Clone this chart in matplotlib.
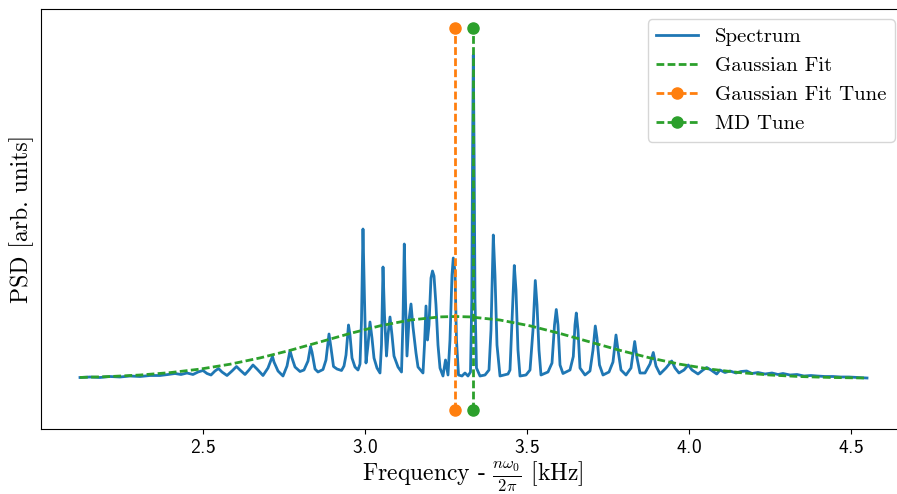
import matplotlib
matplotlib.use("Agg")
import matplotlib.pyplot as plt

plt.rcParams['font.family'] = 'serif'
plt.rcParams['font.serif'] = ['cmr10']
plt.rcParams['mathtext.fontset'] = 'cm'
plt.rcParams['axes.formatter.use_mathtext'] = True
plt.rcParams['font.size'] = 14

# spectrum (frequency in kHz, PSD in arb. units)
freq = [
    2.1204, 2.1512, 2.1821, 2.2130, 2.2438, 2.2747, 2.3056, 2.3364, 2.3673, 2.3920,
    2.4136, 2.4321, 2.4506, 2.4691, 2.4846, 2.5000, 2.5123, 2.5247, 2.5370, 2.5478,
    2.5586, 2.5741, 2.5895, 2.6034, 2.6142, 2.6296, 2.6420, 2.6543, 2.6667, 2.6852,
    2.7006, 2.7099, 2.7145, 2.7191, 2.7315, 2.7469, 2.7593, 2.7685, 2.7747, 2.7840,
    2.7994, 2.8117, 2.8241, 2.8318, 2.8364, 2.8457, 2.8549, 2.8704, 2.8796, 2.8889,
    2.8951, 2.9028, 2.9136, 2.9275, 2.9352, 2.9414, 2.9491, 2.9537, 2.9599, 2.9691,
    2.9784, 2.9846, 2.9892, 2.9938, 2.9985, 3.0031, 3.0093, 3.0154, 3.0216, 3.0278,
    3.0370, 3.0463, 3.0509, 3.0556, 3.0602, 3.0664, 3.0710, 3.0772, 3.0833, 3.0895,
    3.1019, 3.1127, 3.1173, 3.1213, 3.1250, 3.1296, 3.1358, 3.1420, 3.1481, 3.1574,
    3.1636, 3.1790, 3.1836, 3.1883, 3.1929, 3.1975, 3.2037, 3.2083, 3.2130, 3.2191,
    3.2253, 3.2315, 3.2407, 3.2485, 3.2562, 3.2623, 3.2685, 3.2725, 3.2778, 3.2824,
    3.2886, 3.2994, 3.3086, 3.3179, 3.3256, 3.3296, 3.3321, 3.3343, 3.3367, 3.3395,
    3.3441, 3.3549, 3.3704, 3.3827, 3.3889, 3.3960, 3.4012, 3.4074, 3.4167, 3.4290,
    3.4414, 3.4475, 3.4552, 3.4608, 3.4660, 3.4722, 3.4784, 3.4969, 3.5093, 3.5185,
    3.5256, 3.5309, 3.5370, 3.5432, 3.5648, 3.5772, 3.5849, 3.5904, 3.5957, 3.6019,
    3.6111, 3.6327, 3.6429, 3.6481, 3.6522, 3.6574, 3.6636, 3.6790, 3.6944, 3.7037,
    3.7108, 3.7160, 3.7238, 3.7346, 3.7531, 3.7654, 3.7747, 3.7809, 3.7901, 3.8056,
    3.8210, 3.8324, 3.8395, 3.8488, 3.8642, 3.8796, 3.8898, 3.8981, 3.9105, 3.9290,
    3.9466, 3.9568, 3.9691, 3.9846, 3.9978, 4.0093, 4.0278, 4.0432, 4.0546, 4.0679,
    4.0855, 4.0957, 4.1111, 4.1265, 4.1451, 4.1605, 4.1781, 4.1944, 4.2130, 4.2346,
    4.2562, 4.2747, 4.2901, 4.3117, 4.3333, 4.3549, 4.3765, 4.3951, 4.4198, 4.4444,
    4.4691, 4.4938, 4.5216, 4.5494,
]
psd = [
    0.325, 0.330, 0.325, 0.335, 0.330, 0.340, 0.335, 0.345, 0.345, 0.355,
    0.365, 0.355, 0.370, 0.355, 0.380, 0.395, 0.365, 0.350, 0.390, 0.415,
    0.380, 0.345, 0.390, 0.435, 0.400, 0.355, 0.400, 0.450, 0.410, 0.345,
    0.420, 0.500, 0.535, 0.480, 0.390, 0.340, 0.440, 0.595, 0.520, 0.430,
    0.385, 0.400, 0.490, 0.635, 0.580, 0.410, 0.380, 0.405, 0.500, 0.760,
    0.620, 0.435, 0.410, 0.395, 0.440, 0.550, 0.850, 0.750, 0.520, 0.430,
    0.400, 0.460, 0.900, 1.810, 1.100, 0.470, 0.650, 0.880, 0.720, 0.520,
    0.420, 0.370, 0.650, 1.430, 0.950, 0.540, 0.750, 0.930, 0.750, 0.540,
    0.430, 0.380, 0.900, 1.660, 1.100, 0.540, 0.900, 1.060, 0.830, 0.570,
    0.430, 0.370, 0.650, 1.040, 0.700, 0.850, 1.320, 1.390, 1.340, 1.050,
    0.650, 0.420, 0.340, 0.500, 0.350, 0.700, 1.350, 1.520, 1.380, 0.700,
    0.350, 0.340, 0.370, 0.340, 0.380, 1.100, 2.600, 3.550, 2.600, 1.100,
    0.420, 0.340, 0.350, 0.400, 0.800, 1.750, 1.350, 0.650, 0.340, 0.350,
    0.360, 0.400, 1.000, 1.445, 1.200, 0.600, 0.340, 0.350, 0.400, 0.800,
    1.295, 1.050, 0.600, 0.350, 0.380, 0.470, 0.850, 1.005, 0.850, 0.450,
    0.365, 0.400, 0.535, 0.850, 0.970, 0.800, 0.420, 0.350, 0.390, 0.600,
    0.840, 0.720, 0.450, 0.350, 0.380, 0.480, 0.750, 0.600, 0.400, 0.350,
    0.420, 0.685, 0.520, 0.370, 0.370, 0.460, 0.575, 0.440, 0.360, 0.420,
    0.490, 0.420, 0.370, 0.400, 0.450, 0.400, 0.360, 0.400, 0.425, 0.400,
    0.360, 0.400, 0.375, 0.390, 0.370, 0.385, 0.390, 0.365, 0.375, 0.360,
    0.370, 0.355, 0.365, 0.350, 0.355, 0.340, 0.345, 0.340, 0.335, 0.335,
    0.330, 0.330, 0.325, 0.320,
]

# gaussian fit curve
fit_freq = [
    2.1204, 2.2130, 2.3056, 2.3981, 2.4907, 2.5833, 2.6759, 2.7685, 2.8611, 2.9537,
    3.0463, 3.1389, 3.2315, 3.2778, 3.3241, 3.4167, 3.5093, 3.6019, 3.6944, 3.7870,
    3.8796, 3.9722, 4.0648, 4.1574, 4.2500, 4.3426, 4.4352, 4.5494,
]
fit_psd = [
    0.3255, 0.3346, 0.3498, 0.3737, 0.4089, 0.4577, 0.5207, 0.5963, 0.6803, 0.7652,
    0.8416, 0.8996, 0.9310, 0.9350, 0.9310, 0.8996, 0.8416, 0.7652, 0.6803, 0.5963,
    0.5207, 0.4577, 0.4089, 0.3737, 0.3498, 0.3346, 0.3255, 0.3195,
]

gauss_tune = 3.2778
md_tune = 3.3343
tune_span = [0.0, 3.82]

dash = (2.8, 1.2)

fig = plt.figure(figsize=(8.97, 4.94), dpi=100)
ax = fig.add_axes([41 / 897, 65 / 494, 864 / 897, 420 / 494])

ax.plot(freq, psd, color="tab:blue", lw=2.0, label="Spectrum")
ax.plot(fit_freq, fit_psd, "--", color="tab:green", lw=2.0, dashes=dash,
        label="Gaussian Fit")
ax.plot([gauss_tune, gauss_tune], tune_span, "--o", color="tab:orange", lw=2.0,
        dashes=dash, markersize=8, label="Gaussian Fit Tune")
ax.plot([md_tune, md_tune], tune_span, "--o", color="tab:green", lw=2.0,
        dashes=dash, markersize=8, label="MD Tune")

ax.set_xlim(2.0, 4.6667)
ax.set_ylim(-0.19, 4.01)
ax.set_xticks([2.5, 3.0, 3.5, 4.0, 4.5])
ax.set_yticks([])
ax.tick_params(axis="x", labelsize=14, labelfontfamily="cmss10")
ax.set_xlabel(r"Frequency - $\frac{n\omega_0}{2\pi}$ [kHz]", fontsize=17, labelpad=2)
ax.set_ylabel("PSD [arb. units]", fontsize=17, labelpad=5)
ax.legend(loc="upper right", fontsize=15)

fig.savefig("out.png", dpi=100)
